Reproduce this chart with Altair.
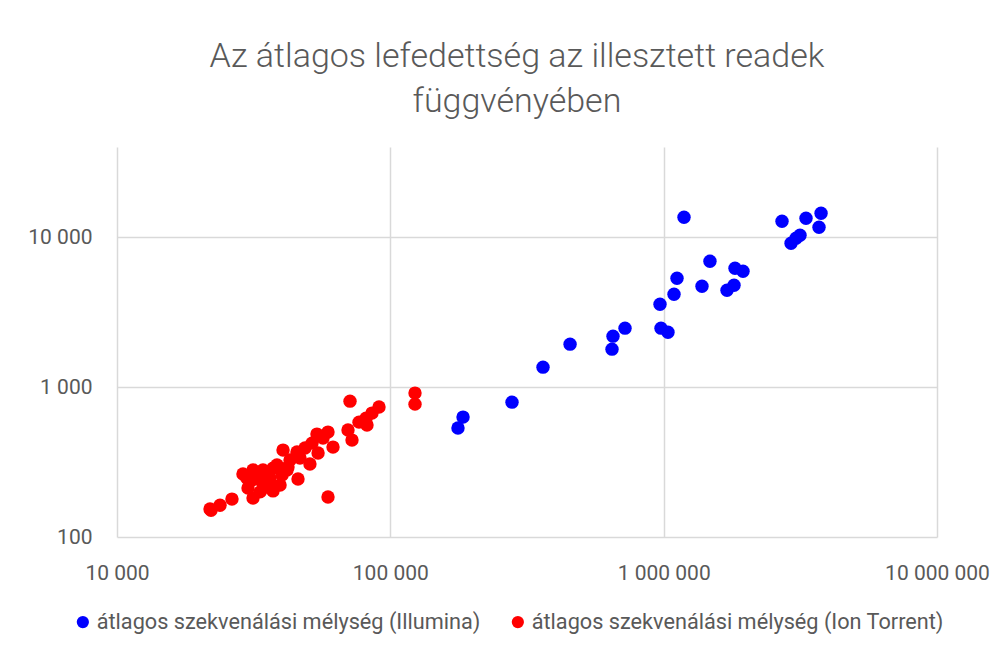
import altair as alt
import pandas as pd

illumina_reads = [176800, 184500, 278700, 361900, 454500, 647100, 652600, 722100,
                  969600, 977900, 1037000, 1091000, 1119000, 1187000, 1381000, 1477000,
                  1705000, 1809000, 1824000, 1951000, 2710000, 3317000, 3765000, 3701000,
                  2924000, 3050000, 3154000]
illumina_depth = [533, 631, 794, 1359, 1935, 1792, 2188, 2474,
                  3575, 2474, 2326, 4169, 5330, 13600, 4714, 6918,
                  4433, 4786, 6213, 5933, 12780, 13380, 14450, 11660,
                  9120, 9847, 10310]

ion_reads = [123100, 123100, 71200, 90900, 85700, 81500, 76800, 82160, 70000, 72400,
             59150, 53900, 61700, 51700, 54400, 50800, 45550, 40500, 42230, 38500,
             45940, 37220, 34210, 31450, 32810, 28900, 31190, 33370, 35680, 40160,
             41880, 30150, 33370, 37220, 31450, 59150, 26340, 23820, 21890, 22080,
             46720, 48730, 42950, 36290, 29900, 34790, 39490, 56720]
ion_depth = [912, 770, 806, 736, 671, 621, 584, 558, 517, 443,
             501, 486, 398, 423, 363, 307, 369, 380, 293, 302,
             244, 288, 280, 280, 267, 263, 240, 240, 233, 259,
             280, 212, 200, 203, 182, 185, 179, 163, 154, 151,
             336, 392, 326, 247, 247, 215, 222, 457]

series_names = ["átlagos szekvenálási mélység (Illumina)",
                "átlagos szekvenálási mélység (Ion Torrent)"]

df = pd.concat([
    pd.DataFrame({"reads": illumina_reads, "depth": illumina_depth, "series": series_names[0]}),
    pd.DataFrame({"reads": ion_reads, "depth": ion_depth, "series": series_names[1]}),
])

FONT = "Roboto"
GRAY = "#595959"

points = alt.Chart(df).mark_circle(size=180, opacity=1).encode(
    x=alt.X("reads:Q", scale=alt.Scale(type="log", domain=[10000, 10000000], nice=False),
            axis=alt.Axis(values=[10000, 100000, 1000000, 10000000], format=",d",
                          title=None, domain=False, ticks=False, labelPadding=25,
                          labelFlush=False,
                          labelExpr="replace(datum.label, /,/g, ' ')")),
    y=alt.Y("depth:Q", scale=alt.Scale(type="log", domain=[100, 40000], nice=False),
            axis=alt.Axis(values=[100, 1000, 10000], format=",d", title=None,
                          domain=False, ticks=False, labelPadding=25,
                          labelExpr="replace(datum.label, /,/g, ' ')")),
    color=alt.Color("series:N", scale=alt.Scale(domain=series_names, range=["#0000FF", "#FF0000"]),
                    legend=alt.Legend(title=None, orient="none", direction="horizontal",
                                      legendX=-45, legendY=464, symbolType="circle",
                                      symbolSize=150, labelFontSize=21.7, labelFont=FONT,
                                      labelColor=GRAY, columnPadding=26, labelLimit=600,
                                      labelOffset=3, symbolOffset=0)),
)

frame = alt.Chart(pd.DataFrame({"f": [0]})).mark_rect(
    fill="white", fillOpacity=0, stroke="#d9d9d9", strokeWidth=1.2, clip=False
).encode(
    x=alt.value(-113), x2=alt.value(1000), y=alt.value(-144), y2=alt.value(600)
)

chart = alt.layer(frame, points).properties(
    width=820, height=390,
    title=alt.TitleParams(["Az átlagos lefedettség az illesztett readek", "függvényében"],
                          fontSize=34, font=FONT, fontWeight=300, color=GRAY,
                          anchor="middle", lineHeight=45, offset=-117, dx=-10),
    autosize=alt.AutoSizeParams(type="none"),
    padding={"left": 109, "top": 139, "right": 55, "bottom": 110},
).configure_axis(
    gridColor="#d9d9d9", gridWidth=1.5, labelFont=FONT, labelFontSize=21, labelColor=GRAY,
).configure_view(stroke=None)

chart.save("out.html", embed_options={"renderer": "svg", "actions": False})
